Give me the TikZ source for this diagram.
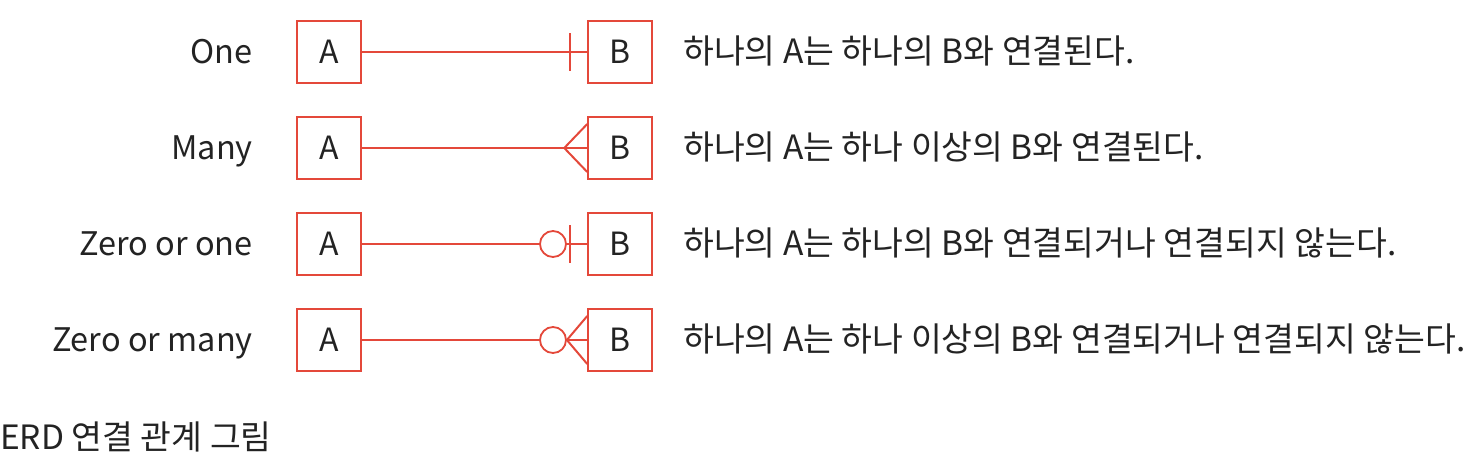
\documentclass[tikz,border=0pt]{standalone}
\usepackage{fontspec}
\setmainfont{Noto Sans CJK KR}
\definecolor{erdred}{RGB}{228,72,58}
\definecolor{erdtext}{RGB}{35,35,35}

\begin{document}
\begin{tikzpicture}[x=1pt, y=-1pt,
    entity/.style={
        draw=erdred,
        line width=1.5pt,
        minimum width=64pt,
        minimum height=62pt,
        inner sep=0pt,
        text=erdtext,
        font=\fontsize{32}{38}\selectfont
    },
    rowlabel/.style={
        anchor=base east,
        inner sep=0pt,
        text=erdtext,
        font=\fontsize{32.5}{38}\selectfont
    },
    desc/.style={
        rowlabel,
        anchor=base west,
        font=\fontsize{33.5}{40}\selectfont
    },
    rel/.style={
        draw=erdred,
        line width=2pt
    },
    zero/.style={
        circle,
        draw=erdred,
        fill=white,
        line width=1.8pt,
        minimum size=26pt,
        inner sep=0pt
    }
]
\useasboundingbox (0,0) rectangle (1478,474);

%%%%%%%%%%%%%%%%%%%%%%%%
% One
%%%%%%%%%%%%%%%%%%%%%%%%

\node[rowlabel] (l1) at (253,63) {One};
\node[entity] (a1) at (329,52) {A};
\node[entity] (b1) at (620,52) {B};
\node[desc] (d1) at (683,63) {하나의 A는 하나의 B와 연결된다.};

\draw[rel] (a1) -- (b1);
\draw[rel] ([xshift=-17pt,yshift=19pt]b1.west) -- ([xshift=-17pt,yshift=-19pt]b1.west);

%%%%%%%%%%%%%%%%%%%%%%%%
% Many
%%%%%%%%%%%%%%%%%%%%%%%%

\node[rowlabel] (l2) at (253,159) {Many};
\node[entity] (a2) at (329,148) {A};
\node[entity] (b2) at (620,148) {B};
\node[desc] (d2) at (683,159) {하나의 A는 하나 이상의 B와 연결된다.};

\draw[rel] (a2) -- (b2);
\draw[rel] ([yshift=-24pt]b2.west) -- ([xshift=-23pt]b2.west) -- ([yshift=24pt]b2.west);

%%%%%%%%%%%%%%%%%%%%%%%%
% Zero or one
%%%%%%%%%%%%%%%%%%%%%%%%

\node[rowlabel] (l3) at (253,255) {Zero or one};
\node[entity] (a3) at (329,244) {A};
\node[entity] (b3) at (620,244) {B};
\node[desc] (d3) at (683,255) {하나의 A는 하나의 B와 연결되거나 연결되지 않는다.};

\node[zero] (z3) at (553,244) {};
\draw[rel] (a3) -- (z3);
\draw[rel] (z3) -- (b3);
\draw[rel] ([xshift=-17pt,yshift=19pt]b3.west) -- ([xshift=-17pt,yshift=-19pt]b3.west);

%%%%%%%%%%%%%%%%%%%%%%%%
% Zero or many
%%%%%%%%%%%%%%%%%%%%%%%%

\node[rowlabel] (l4) at (253,351) {Zero or many};
\node[entity] (a4) at (329,340) {A};
\node[entity] (b4) at (620,340) {B};
\node[desc] (d4) at (683,351) {하나의 A는 하나 이상의 B와 연결되거나 연결되지 않는다.};

\node[zero] (z4) at (553,340) {};
\draw[rel] (a4) -- (z4);
\draw[rel] ([yshift=-24pt]b4.west) -- (z4.east) -- ([yshift=24pt]b4.west);
\draw[rel] (z4) -- (b4);

% Caption
\node[desc] (cap) at (0,449) {ERD 연결 관계 그림};

\end{tikzpicture}
\end{document}
